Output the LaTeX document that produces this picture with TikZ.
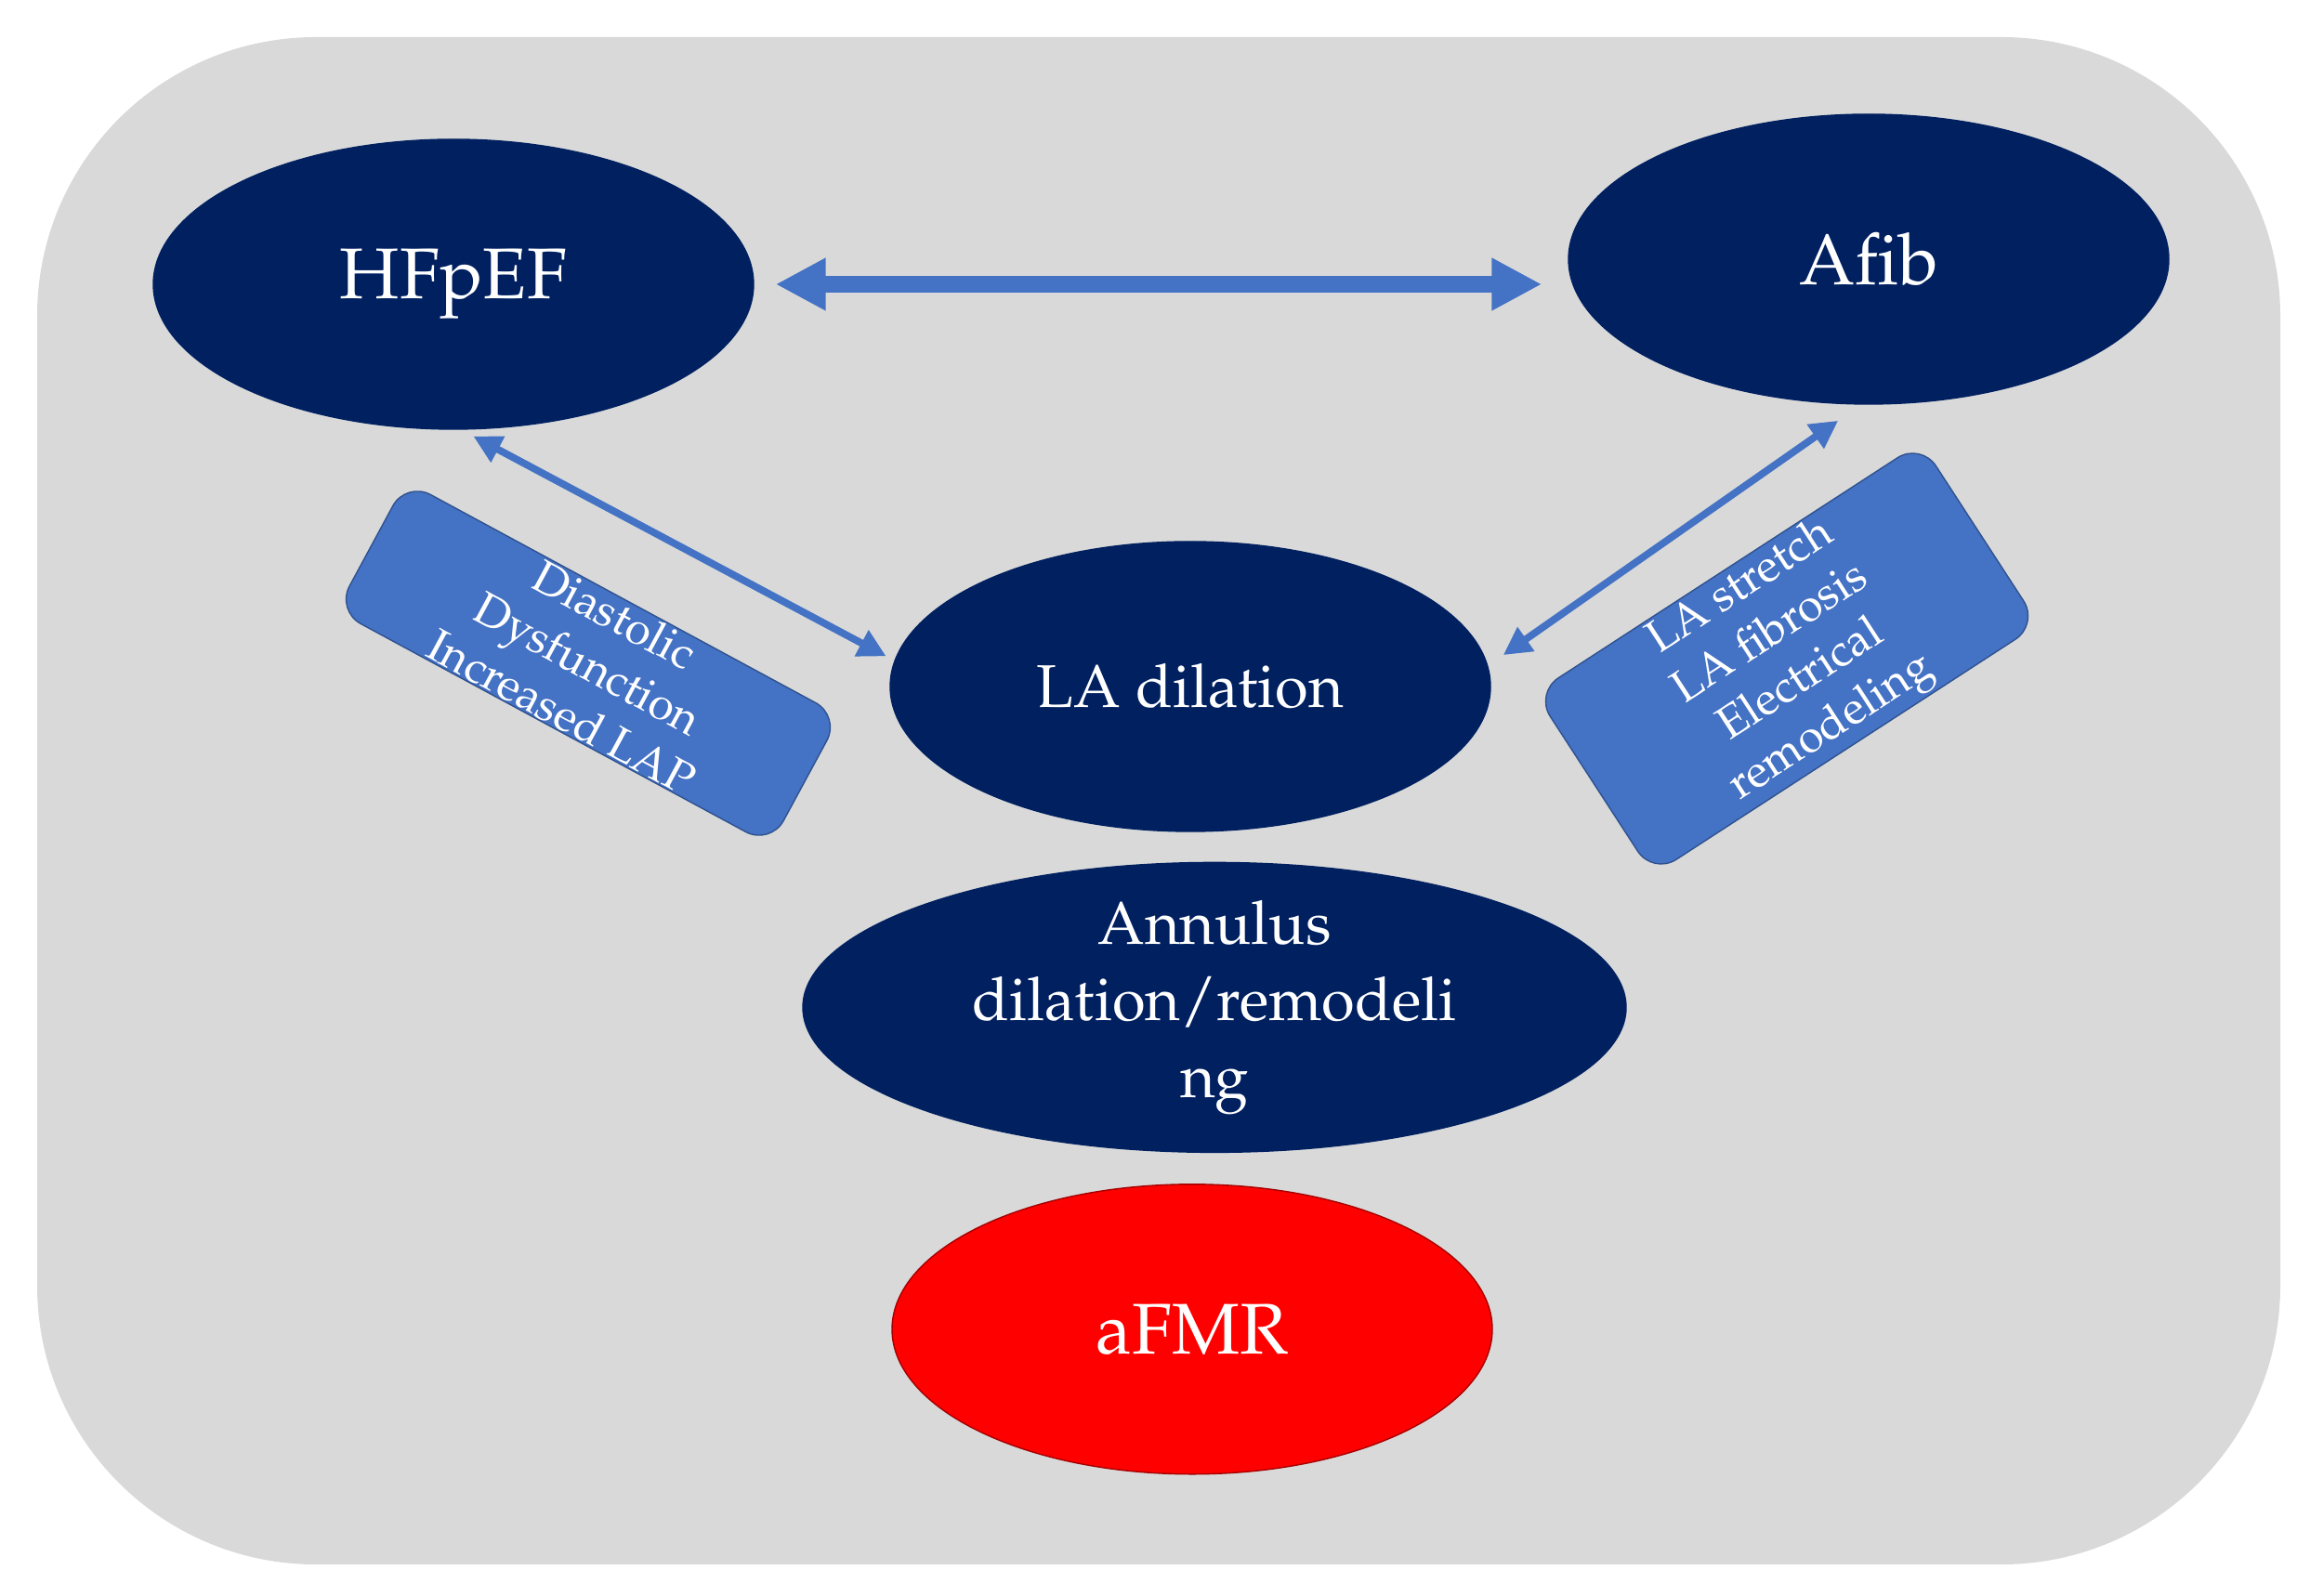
\documentclass[tikz,border=0pt]{standalone}
\usepackage[T1]{fontenc}
\usepackage{mathpazo}
\usepackage{tikz}
\usetikzlibrary{arrows.meta,positioning,shapes.geometric}
\definecolor{navy}{HTML}{002060}
\definecolor{boxblue}{HTML}{4472C4}
\definecolor{boxedge}{HTML}{2F528F}
\definecolor{panel}{HTML}{D9D9D9}

\begin{document}
\begin{tikzpicture}[
  oval/.style={ellipse,fill=#1,draw=#1,inner sep=0pt,minimum width=6.46cm,minimum height=3.12cm,text=white,align=center},
  tag/.style={draw=boxedge,fill=boxblue,rounded corners=3mm,text=white,align=center,inner sep=0pt,font=\fontsize{14}{17}\selectfont},
  arr/.style={{Triangle[length=3mm,width=3mm]}-{Triangle[length=3mm,width=3mm]},draw=boxblue,line width=2.2pt},
  bigarr/.style={{Triangle[length=5.4mm,width=5.3mm]}-{Triangle[length=5.4mm,width=5.3mm]},draw=boxblue,line width=5pt}]
\useasboundingbox (0,0) rectangle (24.86,17.18);
\fill[panel,rounded corners=3cm] (0.40,0.34) rectangle (24.54,16.78);
% Top row
\node[oval=navy,font=\fontsize{22}{26}\selectfont] (hf) at (4.88,14.12) {HFpEF};
\node[oval=navy,font=\fontsize{22}{26}\selectfont] (af) at (20.11,14.39) {Afib};
% Middle column
\node[oval=navy,font=\fontsize{18.5}{23.5}\selectfont] (la) at (12.81,9.79) {LA dilation};
\node[oval=navy,minimum width=8.86cm,inner ysep=-3mm,font=\fontsize{18.5}{23.5}\selectfont,below=3.2mm of la,xshift=2.6mm] (ann) {Annulus\\dilation/remodeli\\ng};
\node[oval=red,draw=red!65!black,font=\fontsize{22}{26}\selectfont,below=3.3mm of ann,xshift=-2.4mm] (afmr) {aFMR};
% Mechanism boxes
\node[tag,minimum width=5.31cm,minimum height=1.58cm,rotate=-28.4] (dd) at (6.33,10.04) {Diastolic\\Dysfunction\\Increased LAP};
\node[tag,minimum width=4.95cm,minimum height=2.33cm,rotate=33] (str) at (19.23,10.09) {LA stretch\\LA fibrosis\\Electrical\\remodeling};
% Links
\draw[bigarr,shorten <=2.3mm,shorten >=2.8mm] (hf.east) -- (hf.east -| af.west);
\draw[arr,shorten <=1.5mm,shorten >=1mm] (hf.-87) -- (la.175);
\draw[arr,shorten <=3mm,shorten >=2mm] (af.-93) -- (la.4);
\end{tikzpicture}
\end{document}
